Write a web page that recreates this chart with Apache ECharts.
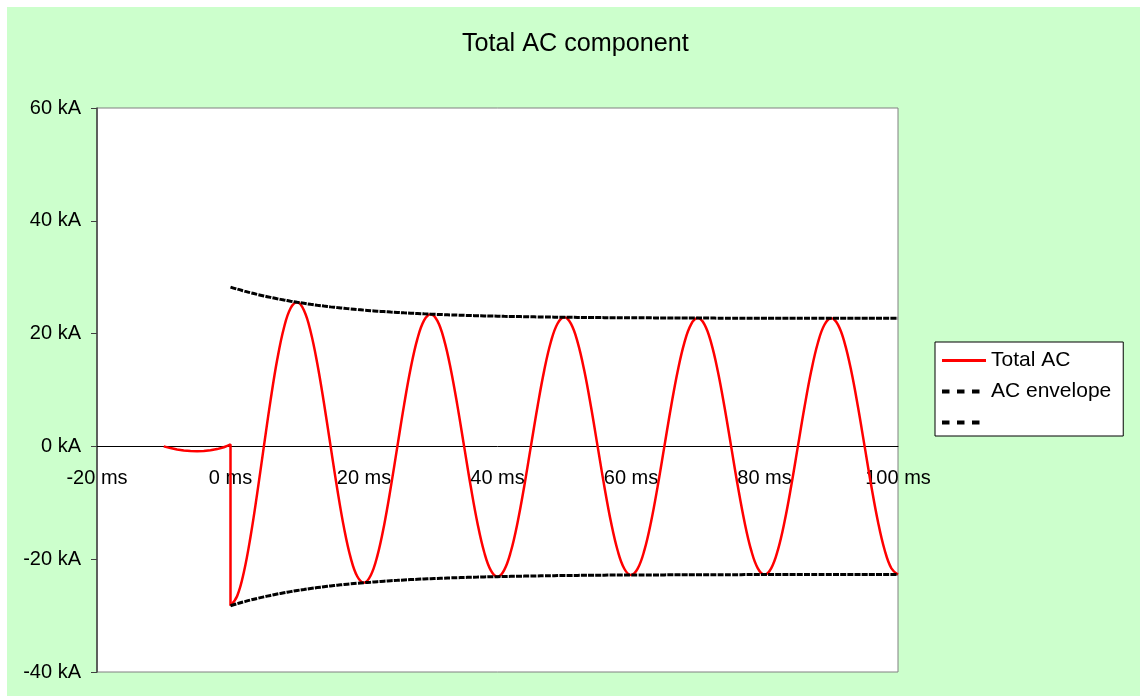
<!DOCTYPE html>
<html>
<head>
<meta charset="utf-8">
<script src="https://cdn.jsdelivr.net/npm/echarts@6/dist/echarts.min.js"></script>
<style>
html,body{margin:0;padding:0;background:#fff;}
#chart{position:absolute;left:7px;top:7px;width:1133px;height:689px;}
</style>
</head>
<body>
<div id="chart"></div>
<script>
// Pre-fault current (ms, kA)
const preTime = [-10, -9, -8, -7, -6, -5, -4, -3, -2, -1, -0.4, 0, 0];
const preAC   = [0, -0.3, -0.55, -0.72, -0.82, -0.85, -0.8, -0.68, -0.48, -0.15, 0.15, 0.35, -28.25];

// Fault time base (ms)
const faultTime = [0,1,2,3,4,5,6,7,8,9,10,11,12,13,14,15,16,17,18,19,20,21,22,23,24,25,26,27,28,29,30,31,32,33,34,35,36,37,38,39,40,41,42,43,44,45,46,47,48,49,50,51,52,53,54,55,56,57,58,59,60,61,62,63,64,65,66,67,68,69,70,71,72,73,74,75,76,77,78,79,80,81,82,83,84,85,86,87,88,89,90,91,92,93,94,95,96,97,98,99,100];

// Total AC (kA)
const totalAC = [-28.25,-26.53,-22.30,-16.01,-8.33,0,8.16,15.39,21.00,24.49,25.55,24.13,20.38,14.71,7.69,0,-7.60,-14.40,-19.72,-23.07,-24.16,-22.89,-19.40,-14.05,-7.36,0,7.32,13.88,19.06,22.35,23.45,22.26,18.90,13.70,7.19,0,-7.17,-13.62,-18.72,-21.98,-23.09,-21.93,-18.64,-13.53,-7.11,0,7.09,13.48,18.55,21.79,22.90,21.77,18.50,13.44,7.06,0,-7.05,-13.41,-18.46,-21.69,-22.80,-21.68,-18.44,-13.40,-7.04,0,7.04,13.38,18.41,21.65,22.75,21.64,18.40,13.37,7.03,0,-7.03,-13.36,-18.39,-21.62,-22.73,-21.61,-18.38,-13.35,-7.02,0,7.02,13.35,18.38,21.61,22.72,21.60,18.37,13.35,7.02,0,-7.02,-13.35,-18.37,-21.60,-22.71];

// AC envelope (kA), upper and lower
const envUpper = [28.25,27.89,27.56,27.24,26.95,26.68,26.42,26.18,25.96,25.75,25.55,25.37,25.19,25.03,24.88,24.74,24.61,24.49,24.37,24.26,24.16,24.07,23.98,23.90,23.82,23.75,23.68,23.62,23.56,23.50,23.45,23.40,23.36,23.31,23.28,23.24,23.20,23.17,23.14,23.11,23.09,23.06,23.04,23.02,23.00,22.98,22.96,22.94,22.93,22.91,22.90,22.89,22.87,22.86,22.85,22.84,22.83,22.82,22.82,22.81,22.80,22.80,22.79,22.79,22.78,22.78,22.77,22.77,22.76,22.76,22.75,22.75,22.75,22.74,22.74,22.74,22.74,22.73,22.73,22.73,22.73,22.72,22.72,22.72,22.72,22.72,22.72,22.72,22.72,22.72,22.72,22.71,22.71,22.71,22.71,22.71,22.71,22.71,22.71,22.71,22.71];
const envLower = [-28.25,-27.89,-27.56,-27.24,-26.95,-26.68,-26.42,-26.18,-25.96,-25.75,-25.55,-25.37,-25.19,-25.03,-24.88,-24.74,-24.61,-24.49,-24.37,-24.26,-24.16,-24.07,-23.98,-23.90,-23.82,-23.75,-23.68,-23.62,-23.56,-23.50,-23.45,-23.40,-23.36,-23.31,-23.28,-23.24,-23.20,-23.17,-23.14,-23.11,-23.09,-23.06,-23.04,-23.02,-23.00,-22.98,-22.96,-22.94,-22.93,-22.91,-22.90,-22.89,-22.87,-22.86,-22.85,-22.84,-22.83,-22.82,-22.82,-22.81,-22.80,-22.80,-22.79,-22.79,-22.78,-22.78,-22.77,-22.77,-22.76,-22.76,-22.75,-22.75,-22.75,-22.74,-22.74,-22.74,-22.74,-22.73,-22.73,-22.73,-22.73,-22.72,-22.72,-22.72,-22.72,-22.72,-22.72,-22.72,-22.72,-22.72,-22.72,-22.71,-22.71,-22.71,-22.71,-22.71,-22.71,-22.71,-22.71,-22.71,-22.71];

const seriesNames = ['Total AC', 'AC envelope', '\u00a0'];
const titleText = 'Total AC component';

function pairs(xs, ys){ return xs.map((x,i)=>[x, ys[i]]); }

const FONT = '"Liberation Sans", Arial, sans-serif';
const GRID_H = 689 - 101 - 24;
const Y_MIN = -40, Y_MAX = 60;
const chart = echarts.init(document.getElementById('chart'));
chart.setOption({
  backgroundColor: '#CCFFCC',
  animation: false,
  title: {
    text: titleText, left: 450, top: 20,
    textStyle: {fontFamily: FONT, fontSize: 25.2, fontWeight: 'normal', color: '#000'}
  },
  grid: {
    left: 90, top: 101, right: 242, bottom: 24,
    containLabel: false, outerBoundsMode: 'none',
    show: true, backgroundColor: '#ffffff', borderColor: '#808080', borderWidth: 1
  },
  legend: {
    orient: 'vertical', left: 928, top: 335,
    backgroundColor: '#ffffff', borderColor: '#000', borderWidth: 1,
    padding: [8, 12, 3, 5], itemWidth: 44, itemHeight: 14, itemGap: 10,
    itemStyle: {opacity: 0},
    textStyle: {fontFamily: FONT, fontSize: 21, color: '#000'},
    data: [
      {name: seriesNames[0], itemStyle: {opacity: 0}, lineStyle: {color: '#ff0000', width: 3, type: 'solid'}},
      {name: seriesNames[1], itemStyle: {opacity: 0}, lineStyle: {color: '#000', width: 4, type: [7.5, 7.5]}},
      {name: seriesNames[2], itemStyle: {opacity: 0}, lineStyle: {color: '#000', width: 4, type: [7.5, 7.5]}}
    ]
  },
  xAxis: {
    type: 'value', min: -20, max: 100, interval: 20,
    offset: -GRID_H * (0 - Y_MIN) / (Y_MAX - Y_MIN),
    axisLine: {onZero: false, lineStyle: {color: '#000', width: 1}},
    axisTick: {show: false},
    splitLine: {show: false},
    axisLabel: {margin: 22, fontFamily: FONT, fontSize: 20, color: '#000', formatter: v => v + ' ms'}
  },
  yAxis: {
    type: 'value', min: Y_MIN, max: Y_MAX, interval: 20,
    axisLine: {show: true, onZero: false, lineStyle: {color: '#404040', width: 1.5}},
    axisTick: {show: true, inside: false, length: 6, lineStyle: {color: '#404040'}},
    splitLine: {show: false},
    axisLabel: {margin: 16, fontFamily: FONT, fontSize: 20, color: '#000', formatter: v => v + ' kA'}
  },
  series: [
    {
      name: seriesNames[0], type: 'line', symbol: 'none', smooth: false,
      data: pairs(preTime, preAC),
      lineStyle: {color: '#ff0000', width: 2.5}, itemStyle: {color: '#ff0000'}
    },
    {
      name: seriesNames[0], type: 'line', symbol: 'none', smooth: 0.4,
      data: pairs(faultTime, totalAC),
      lineStyle: {color: '#ff0000', width: 2.5}, itemStyle: {color: '#ff0000'}
    },
    {
      name: seriesNames[1], type: 'line', symbol: 'none', smooth: 0.4,
      data: pairs(faultTime, envUpper),
      lineStyle: {color: '#000', width: 3, type: [6, 1.2]}, itemStyle: {color: '#000'}
    },
    {
      name: seriesNames[2], type: 'line', symbol: 'none', smooth: 0.4,
      data: pairs(faultTime, envLower),
      lineStyle: {color: '#000', width: 3, type: [6, 1.2]}, itemStyle: {color: '#000'}
    }
  ]
});
</script>
</body>
</html>
